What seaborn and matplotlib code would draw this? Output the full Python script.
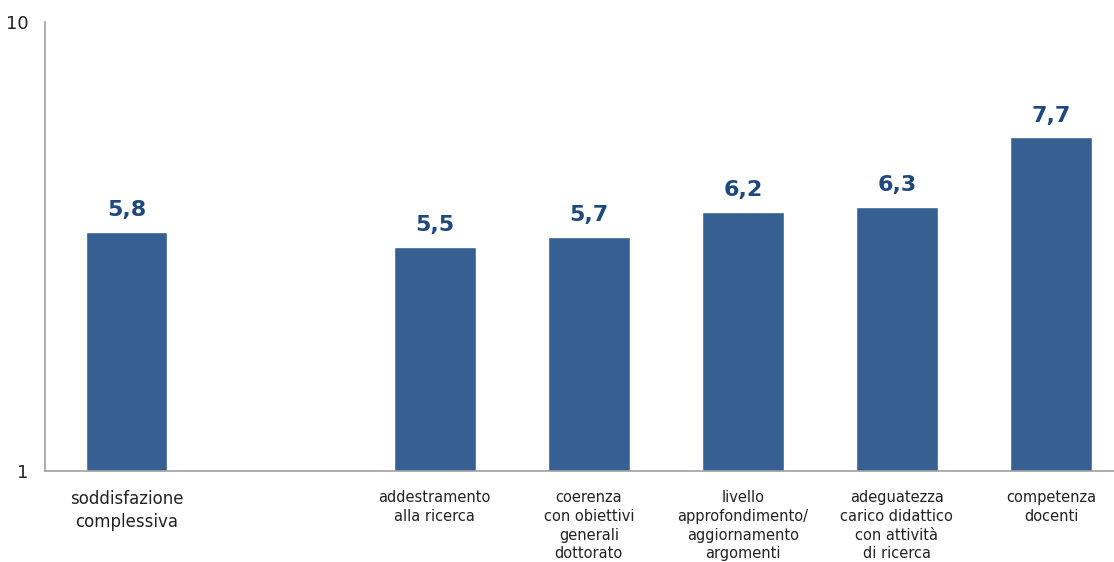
import matplotlib
matplotlib.use("Agg")
import matplotlib.pyplot as plt
import seaborn as sns
import numpy as np
import pandas as pd

categories = ["soddisfazione\ncomplessiva", " ",
              "addestramento\nalla ricerca",
              "coerenza\ncon obiettivi\ngenerali\ndottorato",
              "livello\napprofondimento/\naggiornamento\nargomenti",
              "adeguatezza\ncarico didattico\ncon attività\ndi ricerca",
              "competenza\ndocenti"]
values = [5.8, np.nan, 5.5, 5.7, 6.2, 6.3, 7.7]
y_ticks = [1, 10]

df = pd.DataFrame({"cat": categories, "val": values})

sns.set_style("white")
plt.rcParams["font.family"] = ["DejaVu Sans"]

fig = plt.figure(figsize=(11.14, 5.62), dpi=100)
W, H = 1114, 562
ax = fig.add_axes([45 / W, (H - 471) / H, (1128 - 45) / W, (471 - 22) / H])

sns.barplot(data=df, x="cat", y="val", order=categories, color="#366092",
            saturation=1, width=0.53, ax=ax)

ax.set_ylim(1, 10)
ax.set_xlim(-0.53, 6.5)
ax.set_yticks(y_ticks)
ax.set_yticklabels([str(t) for t in y_ticks], fontsize=13, color="#222222")
ax.tick_params(axis="y", length=4, color="#999999", direction="out", pad=8)
ax.tick_params(axis="x", length=0, pad=14)
ax.set_xticks(range(len(categories)))
ax.set_xticklabels(categories, fontsize=10.5, color="#222222", linespacing=1.3,
                   va="top")
ax.get_xticklabels()[0].set_fontsize(12)
ax.set_xlabel("")
ax.set_ylabel("")

for s in ["top", "right"]:
    ax.spines[s].set_visible(False)
for s in ["left", "bottom"]:
    ax.spines[s].set_color("#a0a0a0")
    ax.spines[s].set_linewidth(1.2)

for i, v in enumerate(values):
    if np.isnan(v):
        continue
    ax.annotate(f"{v:.1f}".replace(".", ","), (i, v), xytext=(0, 8),
                textcoords="offset points", ha="center", va="bottom",
                fontsize=16, fontweight="bold", color="#1F497D")

fig.savefig("out.png", dpi=100)
